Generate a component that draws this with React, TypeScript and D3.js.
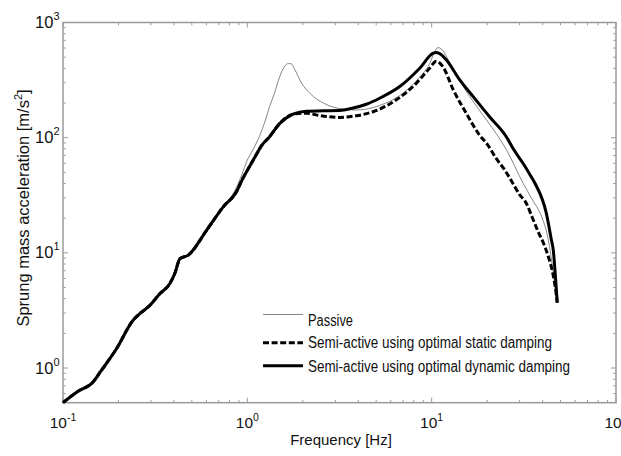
import React from "react";
import * as d3 from "d3";

const W = 621;
const H = 456;

// ---- data (Hz, m/s^2) ----
const passiveFreq = [0.1, 0.119, 0.146, 0.159, 0.195, 0.24, 0.261, 0.29, 0.336, 0.38, 0.404, 0.431, 0.478, 0.601, 0.74, 0.82, 0.873, 0.93, 1.0, 1.07, 1.17, 1.25, 1.32, 1.4, 1.5, 1.6, 1.67, 1.73, 1.81, 1.97, 2.2, 2.6, 3.1, 3.9, 5.2, 6.7, 8.6, 9.75, 10.4, 10.8, 11.3, 12.0, 13.1, 14.8, 17, 20, 25.5, 31.4, 35, 39.5, 42.5, 43.9, 45.5, 46.8, 48];
const passiveAcc = [0.5, 0.62, 0.76, 0.92, 1.47, 2.6, 2.97, 3.39, 4.43, 5.42, 6.62, 8.9, 9.55, 15.7, 25.1, 31, 37, 47, 64, 78, 105, 140, 186, 240, 340, 420, 440, 438, 390, 297, 240, 199, 180, 174, 190, 232, 335, 440, 560, 605, 590, 510, 390, 280, 200, 140, 78, 40, 29.3, 20.6, 14, 10.5, 7, 5, 3.7];

const staticFreq = [0.1, 0.119, 0.146, 0.159, 0.195, 0.24, 0.261, 0.29, 0.336, 0.38, 0.404, 0.431, 0.478, 0.601, 0.74, 0.873, 0.93, 1.0, 1.1, 1.2, 1.32, 1.5, 1.77, 2.09, 2.5, 3.17, 3.9, 4.81, 6.43, 8.26, 9.75, 10.6, 11.5, 13.1, 15.4, 18.2, 20, 22.4, 25, 27.6, 30, 32.6, 35, 38, 40.1, 43, 45.8, 47.3, 48];
const staticAcc = [0.5, 0.62, 0.76, 0.92, 1.47, 2.6, 2.97, 3.39, 4.43, 5.42, 6.62, 8.9, 9.55, 15.7, 25.1, 33.9, 42, 52, 68, 86, 102, 133, 160, 163, 155, 150, 155, 168, 213, 297, 401, 460, 414, 260, 163, 105, 88, 66, 52, 40, 32, 27, 20.6, 15, 12.5, 9.2, 6.2, 4.5, 3.7];

const dynamicFreq = [0.1, 0.119, 0.146, 0.159, 0.195, 0.24, 0.261, 0.29, 0.336, 0.38, 0.404, 0.431, 0.478, 0.601, 0.74, 0.873, 0.93, 1.0, 1.1, 1.2, 1.32, 1.5, 1.77, 2.09, 2.6, 3.17, 3.7, 4.42, 5.22, 6.71, 8.61, 10.2, 10.6, 11.2, 12.0, 14.2, 16.8, 20.6, 25.4, 27.7, 31.3, 34.1, 36.4, 41.9, 44.6, 45.7, 46.8, 47.6, 48];
const dynamicAcc = [0.5, 0.62, 0.76, 0.92, 1.47, 2.6, 2.97, 3.39, 4.43, 5.42, 6.62, 8.9, 9.55, 15.7, 25.1, 33.9, 42, 52, 68, 86, 102, 133, 160, 170, 171, 172, 180, 195, 220, 278, 401, 542, 550, 530, 474, 318, 227, 152, 102, 80, 60, 48, 40, 22, 13, 10.5, 6.6, 4.5, 3.7];

const xTickExps = [-1, 0, 1, 2];
const yTickExps = [0, 1, 2, 3];
const legendLabels = [
  "Passive",
  "Semi-active using optimal static damping",
  "Semi-active using optimal dynamic damping",
];
const xLabel = "Frequency [Hz]";
const yLabelMain = "Sprung mass acceleration [m/s";

const FONT = "'Liberation Sans', Arial, Helvetica, sans-serif";

export default function App() {
  const left = 63, right = 616, top = 22.5, bottom = 402.7;
  const x = d3.scaleLog().domain([0.1, 100]).range([left, right]);
  const y = d3.scaleLog().domain([0.5, 1000]).range([bottom, top]);

  const mk = (fs: number[], as: number[]) =>
    d3
      .line<number>()
      .x((_, i) => x(fs[i]))
      .y((_, i) => y(as[i]))
      .curve(d3.curveMonotoneX)(as) || "";

  const xMinor: number[] = [];
  [0.1, 1, 10].forEach((d) => {
    for (let k = 2; k <= 9; k++) xMinor.push(k * d);
  });
  const yMinor: number[] = [];
  [0.1, 1, 10, 100].forEach((d) => {
    for (let k = 2; k <= 9; k++) {
      const v = k * d;
      if (v > 0.5 && v < 1000) yMinor.push(v);
    }
  });

  const axisColor = "#9a9a9a";
  const majorLen = 5;
  const minorLen = 2.8;

  const legendRows = [
    { lineY: 314.5, textY: 325.7, dash: "none", width: 0.9, color: "#777", len: 45 },
    { lineY: 342.7, textY: 348.3, dash: "6,2.6", width: 3, color: "#000", len: 244 },
    { lineY: 365.7, textY: 371.7, dash: "none", width: 3, color: "#000", len: 262 },
  ];

  return (
    <svg
      width={W}
      height={H}
      style={{ position: "absolute", left: 0, top: 0, background: "#fff" }}
      fontFamily={FONT}
    >
      <rect x={0} y={0} width={W} height={H} fill="#fff" />
      {/* ticks */}
      <g stroke={axisColor} strokeWidth={1}>
        {xMinor.map((v, i) => (
          <g key={"xm" + i}>
            <line x1={x(v)} x2={x(v)} y1={bottom} y2={bottom - minorLen} />
            <line x1={x(v)} x2={x(v)} y1={top} y2={top + minorLen} />
          </g>
        ))}
        {xTickExps.map((e) => (
          <g key={"xM" + e}>
            <line x1={x(10 ** e)} x2={x(10 ** e)} y1={bottom} y2={bottom - majorLen} />
            <line x1={x(10 ** e)} x2={x(10 ** e)} y1={top} y2={top + majorLen} />
          </g>
        ))}
        {yMinor.map((v, i) => (
          <g key={"ym" + i}>
            <line x1={left} x2={left + minorLen} y1={y(v)} y2={y(v)} />
            <line x1={right} x2={right - minorLen} y1={y(v)} y2={y(v)} />
          </g>
        ))}
        {yTickExps.map((e) => (
          <g key={"yM" + e}>
            <line x1={left} x2={left + majorLen} y1={y(10 ** e)} y2={y(10 ** e)} />
            <line x1={right} x2={right - majorLen} y1={y(10 ** e)} y2={y(10 ** e)} />
          </g>
        ))}
      </g>
      <rect
        x={left}
        y={top}
        width={right - left}
        height={bottom - top}
        fill="none"
        stroke={axisColor}
        strokeWidth={1.5}
      />

      {/* curves */}
      <path d={mk(passiveFreq, passiveAcc)} fill="none" stroke="#777" strokeWidth={0.9} />
      <path d={mk(staticFreq, staticAcc)} fill="none" stroke="#000" strokeWidth={3} strokeDasharray="6,2.6" />
      <path d={mk(dynamicFreq, dynamicAcc)} fill="none" stroke="#000" strokeWidth={3} />

      {/* tick labels */}
      <g fill="#111">
        {xTickExps.map((e) => (
          <text key={"xl" + e} x={x(10 ** e)} y={428} textAnchor="middle" fontSize={15.5}>
            10
            <tspan fontSize={10.5} dy={-7}>{String(e)}</tspan>
          </text>
        ))}
        {yTickExps.map((e) => (
          <text key={"yl" + e} x={59.5} y={y(10 ** e) + 5.5} textAnchor="end" fontSize={16.5}>
            10
            <tspan fontSize={11} dy={-8}>{e}</tspan>
          </text>
        ))}
      </g>

      {/* axis labels */}
      <text x={341} y={445} textAnchor="middle" fontSize={15} fill="#111">
        {xLabel}
      </text>
      <text
        transform={`translate(29,208) rotate(-90)`}
        textAnchor="middle"
        fontSize={16.5}
        fill="#111"
      >
        {yLabelMain}
        <tspan fontSize={11} dy={-7}>2</tspan>
        <tspan dy={7}>]</tspan>
      </text>

      {/* legend */}
      {legendRows.map((r, i) => (
        <g key={"lg" + i}>
          <line
            x1={263}
            x2={303}
            y1={r.lineY}
            y2={r.lineY}
            stroke={r.color}
            strokeWidth={r.width}
            strokeDasharray={r.dash}
          />
          <text
            x={308}
            y={r.textY}
            fontSize={16}
            fill="#111"
            textLength={r.len}
            lengthAdjust="spacingAndGlyphs"
          >
            {legendLabels[i]}
          </text>
        </g>
      ))}
    </svg>
  );
}
